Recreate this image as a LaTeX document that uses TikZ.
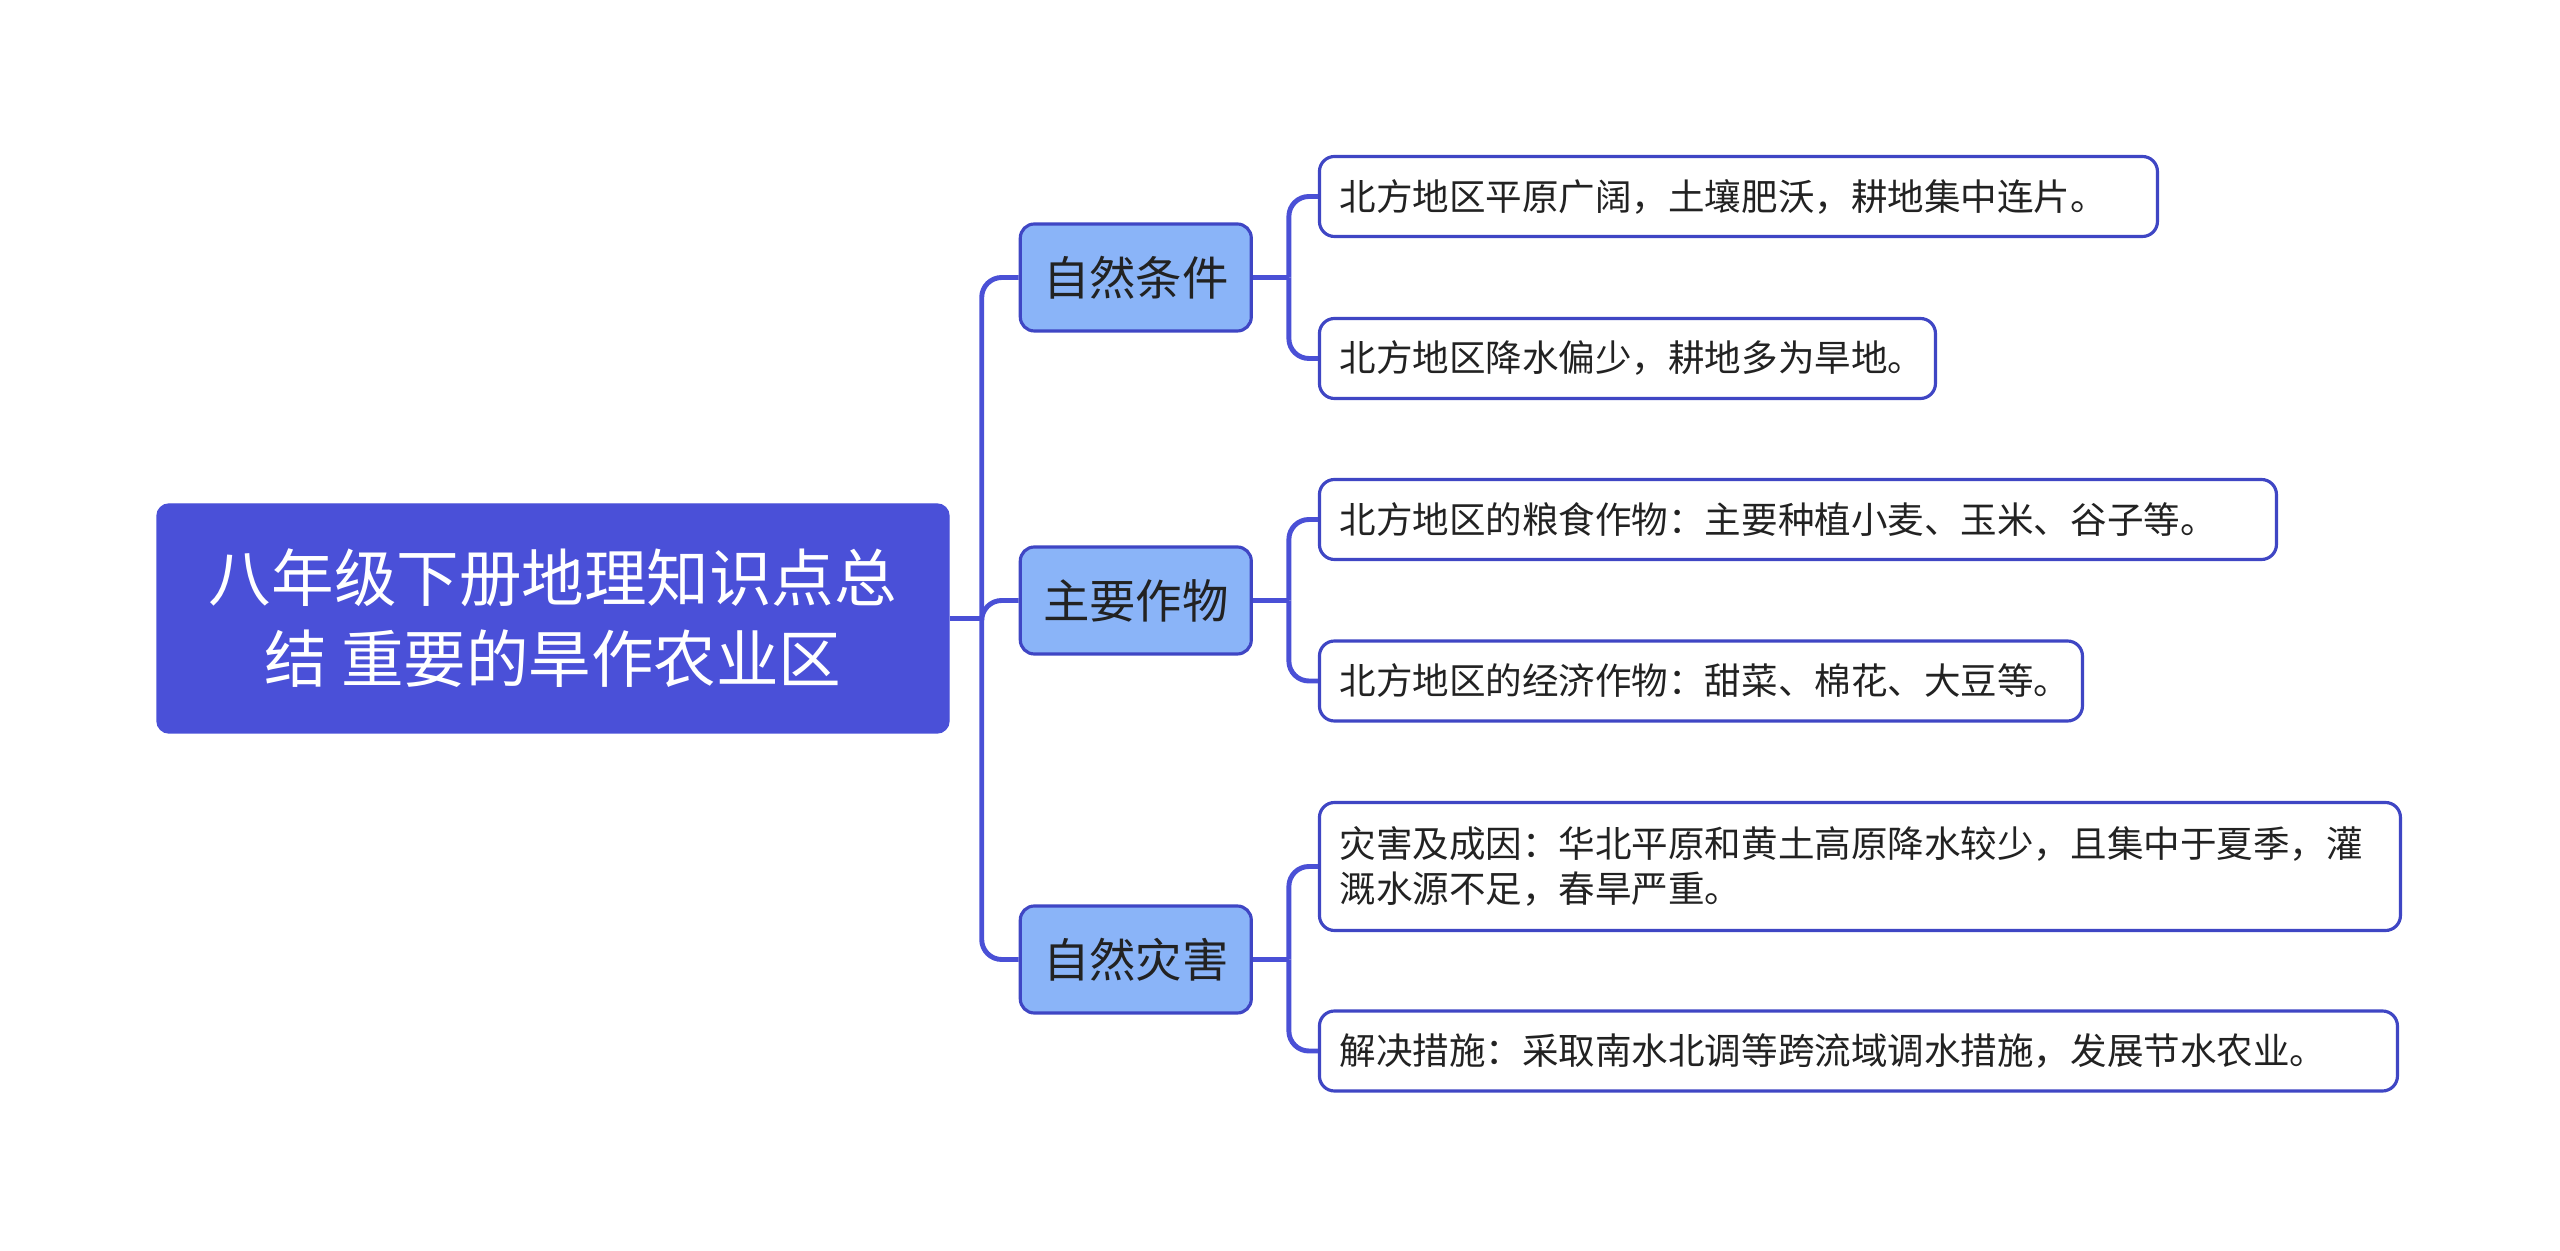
\documentclass[tikz,border=0pt]{standalone}
\usepackage{fontspec}
\usepackage{tikz}
\usetikzlibrary{positioning}
\setmainfont{Noto Sans CJK SC}
\definecolor{mmroot}{HTML}{4A50D8}
\definecolor{mmline}{HTML}{4A50D6}
\definecolor{mmedge}{HTML}{3F46C4}
\definecolor{mmmid}{HTML}{8AB4F8}
\definecolor{mmtext}{HTML}{222222}

\begin{document}
\begin{tikzpicture}[>=latex,
  topic/.style={draw=mmroot,fill=mmroot,rounded corners=0.12cm,minimum width=7.92cm,minimum height=2.29cm,align=center,text=white,font=\fontsize{17.8}{23}\selectfont},
  branch/.style={draw=mmedge,line width=0.9pt,fill=mmmid,rounded corners=0.14cm,minimum width=2.31cm,minimum height=1.07cm,text=mmtext,font=\fontsize{13.2}{16}\selectfont},
  leaf/.style={draw=mmedge,line width=0.9pt,fill=white,rounded corners=0.15cm,inner xsep=0.2cm,minimum height=0.80cm,align=left,text=mmtext,font=\fontsize{10.4}{13}\selectfont},
  link/.style={draw=mmline,line width=1.4pt,rounded corners=0.2cm}]
  \useasboundingbox (0,0) rectangle (25.6,-12.51);
  \node[topic] (root) at (5.53,-6.185) {八年级下册地理知识点总\\结 重要的旱作农业区};
  \node[branch,right=0.69cm of root,yshift=3.41cm] (m1) {自然条件};
  \node[branch,right=0.69cm of root,yshift=0.18cm] (m2) {主要作物};
  \node[branch,right=0.69cm of root,yshift=-3.41cm] (m3) {自然灾害};
  \node[leaf,text width=7.98cm,right=0.65cm of m1,yshift=0.81cm] (l1) {北方地区平原广阔，土壤肥沃，耕地集中连片。};
  \node[leaf,text width=5.76cm,right=0.65cm of m1,yshift=-0.81cm] (l2) {北方地区降水偏少，耕地多为旱地。};
  \node[leaf,text width=9.17cm,right=0.65cm of m2,yshift=0.81cm] (l3) {北方地区的粮食作物：主要种植小麦、玉米、谷子等。};
  \node[leaf,text width=7.23cm,right=0.65cm of m2,yshift=-0.805cm] (l4) {北方地区的经济作物：甜菜、棉花、大豆等。};
  \node[leaf,text width=10.41cm,minimum height=1.28cm,right=0.65cm of m3,yshift=0.93cm] (l5) {灾害及成因：华北平原和黄土高原降水较少，且集中于夏季，灌\\溉水源不足，春旱严重。};
  \node[leaf,text width=10.38cm,right=0.65cm of m3,yshift=-0.915cm] (l6) {解决措施：采取南水北调等跨流域调水措施，发展节水农业。};
  % joints
  \coordinate[right=0.32cm of root.east] (rj);
  \coordinate[right=0.36cm of m1.east] (j1);
  \coordinate[right=0.36cm of m2.east] (j2);
  \coordinate[right=0.36cm of m3.east] (j3);
  \draw[link] (root.east) -- (rj);
  \draw[link] (rj) |- (m1);
  \draw[link] (rj) |- (m2);
  \draw[link] (rj) |- (m3);
  \draw[link] (m1.east) -- (j1);
  \draw[link] (j1) |- (l1);
  \draw[link] (j1) |- (l2);
  \draw[link] (m2.east) -- (j2);
  \draw[link] (j2) |- (l3);
  \draw[link] (j2) |- (l4);
  \draw[link] (m3.east) -- (j3);
  \draw[link] (j3) |- (l5);
  \draw[link] (j3) |- (l6);
\end{tikzpicture}
\end{document}
